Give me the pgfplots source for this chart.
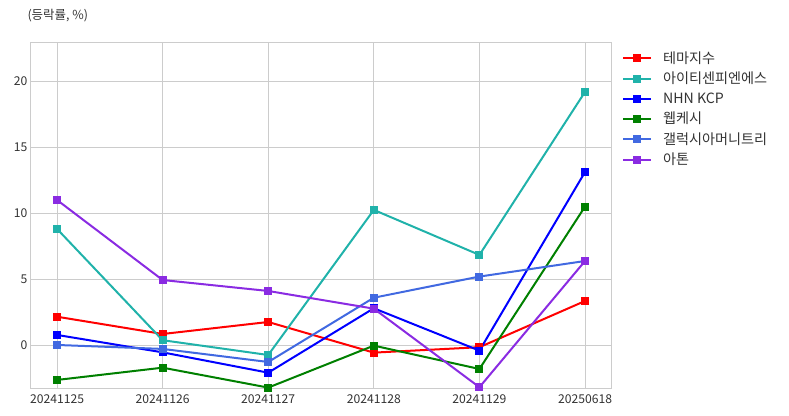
\documentclass[border=0pt]{standalone}
\usepackage{pgfplots}
\pgfplotsset{compat=1.18}
\usepackage{fontspec}
\setmainfont{Noto Sans CJK KR}
\definecolor{cteal}{HTML}{20B2AA}
\definecolor{cgreen}{HTML}{008000}
\definecolor{croyal}{HTML}{4169E1}
\definecolor{cviolet}{HTML}{8A2BE2}
\definecolor{gridc}{HTML}{CCCCCC}
\definecolor{txt}{HTML}{333333}
\begin{document}
\begin{tikzpicture}
\begin{axis}[
  at={(0,0)}, anchor=south west,
  scale only axis, width=581bp, height=346bp,
  xmin=-0.256, xmax=5.246, ymin=-3.26, ymax=22.95,
  xtick={0,1,2,3,4,5},
  xticklabels={20241125,20241126,20241127,20241128,20241129,20250618},
  ytick={0,5,10,15,20},
  grid=major, major grid style={gridc, line width=0.8pt},
  axis line style={gridc, line width=0.8pt},
  tick style={draw=none},
  tick label style={font=\fontsize{12.2}{14}\selectfont, text=txt},
  /pgf/number format/assume math mode=true,
  xticklabel style={yshift=-3bp},
  yticklabel style={xshift=1bp},
  legend style={at={(1.0136,0.985)}, anchor=north west, draw=none, fill=none,
    font=\fontsize{14.2}{16}\selectfont, text=txt, row sep=3.4bp,
    /tikz/every odd column/.append style={column sep=9bp}},
  legend cell align=left,
  legend image code/.code={
    \draw[#1, mark=none, line width=2bp] (0bp,0bp) -- (28bp,0bp);
    \draw[#1, only marks, mark=square*, mark size=3bp] plot coordinates {(14bp,0bp)};
  },
  every axis plot/.append style={line width=2bp, mark=square*, mark size=3bp},
  clip=false,
]
\addplot[red, mark options={fill=red}] coordinates {(0,2.14) (1,0.83) (2,1.74) (3,-0.58) (4,-0.17) (5,3.33)};
\addlegendentry{테마지수}
\addplot[cteal, mark options={fill=cteal}] coordinates {(0,8.79) (1,0.36) (2,-0.76) (3,10.23) (4,6.82) (5,19.17)};
\addlegendentry{아이티센피엔에스}
\addplot[blue, mark options={fill=blue}] coordinates {(0,0.76) (1,-0.56) (2,-2.1) (3,2.78) (4,-0.43) (5,13.1)};
\addlegendentry{NHN KCP}
\addplot[cgreen, mark options={fill=cgreen}] coordinates {(0,-2.65) (1,-1.72) (2,-3.23) (3,-0.05) (4,-1.82) (5,10.48)};
\addlegendentry{웹케시}
\addplot[croyal, mark options={fill=croyal}] coordinates {(0,0.0) (1,-0.3) (2,-1.29) (3,3.58) (4,5.18) (5,6.36)};
\addlegendentry{갤럭시아머니트리}
\addplot[cviolet, mark options={fill=cviolet}] coordinates {(0,10.98) (1,4.92) (2,4.09) (3,2.75) (4,-3.2) (5,6.36)};
\addlegendentry{아톤}
\end{axis}
\node[anchor=west, text=txt, font=\fontsize{12.5}{14}\selectfont] at (-6bp,372bp) {(등락률, \%)};
\path[use as bounding box] (-30bp,-28bp) rectangle (759bp,388bp);
\end{tikzpicture}
\end{document}
